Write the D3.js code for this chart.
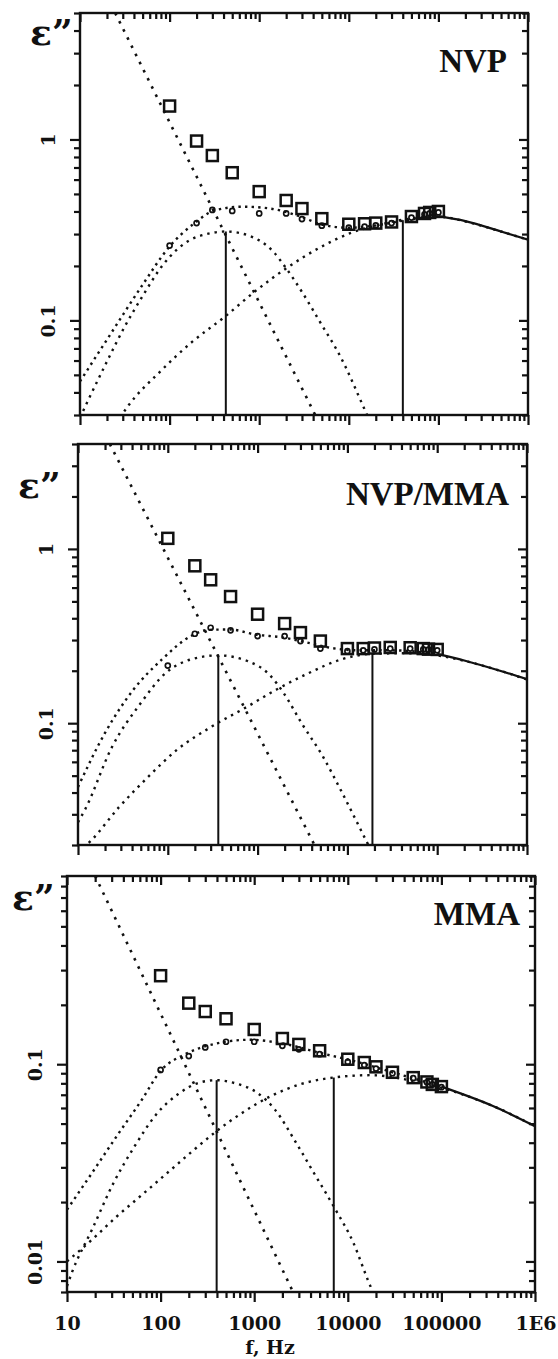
<!DOCTYPE html>
<html><head><meta charset="utf-8">
<script src="https://cdn.jsdelivr.net/npm/d3@7"></script>
<style>
html,body{margin:0;padding:0;background:#fff;}
svg{display:block;}
</style></head>
<body><svg id="chart" width="558" height="1359"></svg>
<script>
// ---------- shared data ----------
const freqs = [100,200,300,500,1000,2000,3000,5000,10000,15000,20000,30000,50000,70000,80000,100000];
const panelNames = ["NVP","NVP/MMA","MMA"];
const xTickValues = [10,100,1000,10000,100000,1000000];
const xTickLabels = ["10","100","1000","10000","100000","1E6"];
const xAxisTitle = "f, Hz";
const yAxisTitle = "ε\u201D";

// ---------- NVP ----------
const nvpYDomain = [0.03, 5];
const nvpMeasured = [1.53,0.98,0.815,0.655,0.515,0.46,0.415,0.365,0.34,0.342,0.345,0.35,0.375,0.39,0.395,0.40];
const nvpCorrected = [0.259,0.345,0.408,0.403,0.39,0.39,0.363,0.334,0.326,0.33,0.335,0.345,0.37,0.385,0.39,0.395];
const nvpConduction = [[24.7,5.0],[4220,0.03]];
const nvpPeak1 = [[10,0.029],[12.6,0.037],[19.9,0.059],[31.4,0.092],[49.4,0.135],[85.7,0.205],[162,0.275],[260,0.300],[424,0.31],[767,0.294],[1455,0.238],[1914,0.2],[3020,0.143],[4770,0.098],[8260,0.0616],[14300,0.034],[17000,0.028]];
const nvpPeak2 = [[28,0.029],[34,0.0334],[78,0.052],[178,0.076],[405,0.104],[920,0.146],[2095,0.197],[4770,0.253],[10860,0.306],[20600,0.335],[40100,0.36],[60000,0.37],[100000,0.375],[200000,0.352],[500000,0.31],[1000000,0.279]];
const nvpFit = [[10,0.046],[19.9,0.078],[49.4,0.156],[98,0.253],[190,0.345],[309,0.403],[640,0.425],[1330,0.415],[2750,0.378],[4990,0.339],[9900,0.325],[18600,0.333],[38900,0.355],[100000,0.377]];
const nvpFitHigh = [[100000,0.377],[200000,0.354],[500000,0.31],[1000000,0.279]];
const nvpRelaxF = [[424,0.31],[40100,0.358]];

// ---------- NVP/MMA ----------
const nvmYDomain = [0.02, 4];
const nvmMeasured = [1.15,0.80,0.665,0.533,0.422,0.373,0.331,0.296,0.268,0.268,0.27,0.272,0.271,0.268,0.266,0.265];
const nvmCorrected = [0.214,0.326,0.353,0.341,0.316,0.316,0.296,0.268,0.259,0.262,0.265,0.268,0.268,0.265,0.264,0.262];
const nvmConduction = [[22.6,4.0],[4300,0.02]];
const nvmPeak1 = [[10,0.027],[12,0.032],[23.9,0.073],[49.8,0.13],[94.6,0.194],[180,0.232],[365,0.245],[776,0.227],[1350,0.19],[1950,0.149],[3090,0.1],[5370,0.064],[8500,0.041],[15600,0.022],[18000,0.019]];
const nvmPeak2 = [[10,0.018],[14,0.0212],[28.7,0.033],[60,0.049],[125,0.07],[312,0.096],[780,0.125],[1625,0.156],[3715,0.194],[8470,0.232],[19000,0.25],[48000,0.252],[100000,0.245],[200000,0.228],[500000,0.2],[1000000,0.178]];
const nvmFit = [[10,0.043],[19.9,0.0876],[41.5,0.156],[86,0.232],[180,0.316],[282,0.343],[493,0.345],[933,0.323],[1950,0.31],[3390,0.292],[6460,0.271],[12200,0.262],[30600,0.262],[100000,0.25]];
const nvmFitHigh = [[100000,0.25],[200000,0.229],[500000,0.2],[1000000,0.179]];
const nvmRelaxF = [[365,0.245],[19000,0.25]];

// ---------- MMA ----------
const mmaYDomain = [0.007, 0.9];
const mmaMeasured = [0.281,0.204,0.185,0.17,0.150,0.135,0.126,0.117,0.106,0.102,0.097,0.091,0.0855,0.0813,0.079,0.077];
const mmaCorrected = [0.0936,0.110,0.1216,0.130,0.130,0.124,0.119,0.1124,0.1027,0.099,0.095,0.09,0.085,0.081,0.079,0.0765];
const mmaConduction = [[20,0.9],[2600,0.007]];
const mmaPeak1 = [[10,0.0075],[11.4,0.0089],[18.5,0.0145],[31.4,0.025],[53,0.0385],[90,0.0557],[153,0.0704],[260,0.0807],[397,0.083],[628,0.080],[1070,0.0718],[1660,0.059],[2800,0.040],[4360,0.028],[7400,0.0183],[11500,0.0124],[16300,0.0081],[19000,0.0068]];
const mmaPeak2 = [[10,0.0100],[18.5,0.0129],[34,0.0169],[63.5,0.0218],[118,0.0281],[218,0.0362],[397,0.0458],[750,0.0568],[1515,0.069],[3070,0.079],[7080,0.0856],[17800,0.088],[39800,0.084],[113000,0.0746],[355000,0.0614],[1000000,0.0485]];
const mmaFit = [[10,0.0183],[18.5,0.0281],[34,0.0432],[63.5,0.0664],[100,0.0925],[183,0.1124],[370,0.1265],[893,0.133],[2160,0.1265],[5200,0.1137],[12600,0.1027],[30000,0.091],[100000,0.077]];
const mmaFitHigh = [[100000,0.077],[355000,0.0614],[1000000,0.0485]];
const mmaRelaxF = [[397,0.083],[7080,0.0856]];

// ---------- layout (positions/styles only) ----------
const panels = [
  {name:panelNames[0], yDomain:nvpYDomain, measured:nvpMeasured, corrected:nvpCorrected, conduction:nvpConduction, peak1:nvpPeak1, peak2:nvpPeak2, fit:nvpFit, fitHigh:nvpFitHigh, relax:nvpRelaxF,
   box:{l:80,r:528,t:13,b:415}, label:{x:507,y:72}, eps:{x:30,y:45}, showX:false},
  {name:panelNames[1], yDomain:nvmYDomain, measured:nvmMeasured, corrected:nvmCorrected, conduction:nvmConduction, peak1:nvmPeak1, peak2:nvmPeak2, fit:nvmFit, fitHigh:nvmFitHigh, relax:nvmRelaxF,
   box:{l:78,r:527,t:444,b:845}, label:{x:509,y:505}, eps:{x:18,y:498}, showX:false},
  {name:panelNames[2], yDomain:mmaYDomain, measured:mmaMeasured, corrected:mmaCorrected, conduction:mmaConduction, peak1:mmaPeak1, peak2:mmaPeak2, fit:mmaFit, fitHigh:mmaFitHigh, relax:mmaRelaxF,
   box:{l:67,r:535,t:876,b:1292}, label:{x:520,y:925}, eps:{x:12,y:910}, showX:true}
];

const svg = d3.select("#chart");
const INK = "#111";
const tickFont = "'DejaVu Serif', serif";

function isDecade(v){ const l = Math.log10(v); return Math.abs(l - Math.round(l)) < 1e-9; }

panels.forEach((p, i) => {
  const b = p.box;
  const x = d3.scaleLog().domain([xTickValues[0], xTickValues[xTickValues.length-1]]).range([b.l, b.r]);
  const y = d3.scaleLog().domain(p.yDomain).range([b.b, b.t]);
  const g = svg.append("g");

  const clipId = "clip" + i;
  svg.append("clipPath").attr("id", clipId).append("rect")
    .attr("x", b.l).attr("y", b.t).attr("width", b.r - b.l).attr("height", b.b - b.t);
  const plot = g.append("g").attr("clip-path", `url(#${clipId})`);

  const curve = d3.line().x(d => x(d[0])).y(d => y(d[1])).curve(d3.curveMonotoneX);
  const straight = d3.line().x(d => x(d[0])).y(d => y(d[1]));

  // conduction line
  plot.append("path").datum(p.conduction).attr("d", straight)
    .attr("fill","none").attr("stroke",INK).attr("stroke-width",2.6).attr("stroke-dasharray","2.6 6.5");
  // relaxation peaks
  [p.peak1, p.peak2].forEach(pk => {
    plot.append("path").datum(pk).attr("d", curve)
      .attr("fill","none").attr("stroke",INK).attr("stroke-width",2.4).attr("stroke-dasharray","2.4 5");
  });
  // total fit (dotted) and high-frequency part (solid)
  plot.append("path").datum(p.fit).attr("d", curve)
    .attr("fill","none").attr("stroke",INK).attr("stroke-width",2.4).attr("stroke-dasharray","2.4 4.2");
  plot.append("path").datum(p.fitHigh).attr("d", curve)
    .attr("fill","none").attr("stroke",INK).attr("stroke-width",2.2);
  // vertical relaxation-frequency lines
  plot.selectAll("line.relax").data(p.relax).enter().append("line")
    .attr("x1", d => x(d[0])).attr("x2", d => x(d[0]))
    .attr("y1", b.b).attr("y2", d => y(d[1]))
    .attr("stroke", INK).attr("stroke-width", 2);

  // measured points (squares)
  const meas = freqs.map((f, k) => [f, p.measured[k]]);
  plot.selectAll("rect.m").data(meas).enter().append("rect")
    .attr("x", d => x(d[0]) - 5.5).attr("y", d => y(d[1]) - 5.5)
    .attr("width", 11).attr("height", 11)
    .attr("fill","none").attr("stroke",INK).attr("stroke-width",2.5);
  // corrected points (small circles)
  const corr = freqs.map((f, k) => [f, p.corrected[k]]);
  plot.selectAll("circle.c").data(corr).enter().append("circle")
    .attr("cx", d => x(d[0])).attr("cy", d => y(d[1])).attr("r", 2.5)
    .attr("fill","none").attr("stroke",INK).attr("stroke-width",1.7);

  // ---------- axes ----------
  const xAll = x.ticks();
  const xMaj = xTickValues;
  const xMin = xAll.filter(v => !isDecade(v));
  const yAll = y.ticks();
  const yMaj = yAll.filter(isDecade);
  const yMin = yAll.filter(v => !isDecade(v));

  function styleAxis(sel){
    sel.select(".domain").remove();
    sel.selectAll(".tick line").attr("stroke", INK).attr("stroke-width", 2.2);
  }

  // bottom (outward)
  g.append("g").attr("transform",`translate(0,${b.b})`)
    .call(d3.axisBottom(x).tickValues(xMin).tickSize(6).tickFormat("")).call(styleAxis);
  const bottomMaj = g.append("g").attr("transform",`translate(0,${b.b})`)
    .call(d3.axisBottom(x).tickValues(xMaj).tickSize(10).tickPadding(15)
      .tickFormat((d, k) => p.showX ? xTickLabels[k] : "")).call(styleAxis);
  bottomMaj.selectAll("text").attr("fill", INK)
    .style("font-family", tickFont).style("font-weight","bold").style("font-size","19px")
    .attr("text-anchor", (d, k) => k === xMaj.length - 1 ? "end" : "middle")
    .attr("dx", (d, k) => k === xMaj.length - 1 ? 21 : 0);

  // top (inward)
  g.append("g").attr("transform",`translate(0,${b.t})`)
    .call(d3.axisTop(x).tickValues(xMin).tickSize(-6).tickFormat("")).call(styleAxis);
  g.append("g").attr("transform",`translate(0,${b.t})`)
    .call(d3.axisTop(x).tickValues(xMaj).tickSize(-9).tickFormat("")).call(styleAxis);

  // left (outward)
  g.append("g").attr("transform",`translate(${b.l},0)`)
    .call(d3.axisLeft(y).tickValues(yMin).tickSize(6).tickFormat("")).call(styleAxis);
  const leftMaj = g.append("g").attr("transform",`translate(${b.l},0)`)
    .call(d3.axisLeft(y).tickValues(yMaj).tickSize(10).tickFormat(d3.format("~g"))).call(styleAxis);
  leftMaj.selectAll("text")
    .attr("transform","rotate(-90)").attr("x",0).attr("y",-32).attr("dy","0.36em")
    .attr("text-anchor","middle").attr("fill", INK)
    .style("font-family", tickFont).style("font-weight","bold").style("font-size","19px");

  // right (inward)
  g.append("g").attr("transform",`translate(${b.r},0)`)
    .call(d3.axisRight(y).tickValues(yMin).tickSize(-6).tickFormat("")).call(styleAxis);
  g.append("g").attr("transform",`translate(${b.r},0)`)
    .call(d3.axisRight(y).tickValues(yMaj).tickSize(-9).tickFormat("")).call(styleAxis);

  // frame
  g.append("rect").attr("x", b.l).attr("y", b.t).attr("width", b.r - b.l).attr("height", b.b - b.t)
    .attr("fill","none").attr("stroke", INK).attr("stroke-width", 2.4);

  // panel name
  g.append("text").attr("x", p.label.x).attr("y", p.label.y).attr("text-anchor","end")
    .attr("fill", INK).style("font-family","'Liberation Serif', 'Times New Roman', serif")
    .style("font-weight","bold").style("font-size","33px").text(p.name);

  // y axis title
  g.append("text").attr("x", p.eps.x).attr("y", p.eps.y)
    .attr("fill", INK).style("font-family", tickFont)
    .style("font-weight","bold").style("font-size","36px").text(yAxisTitle);

  if (p.showX) {
    g.append("text").attr("x", 270).attr("y", 1354).attr("text-anchor","middle")
      .attr("fill", INK).style("font-family", tickFont)
      .style("font-weight","bold").style("font-size","19px").text(xAxisTitle);
  }
});
</script>
</body></html>
